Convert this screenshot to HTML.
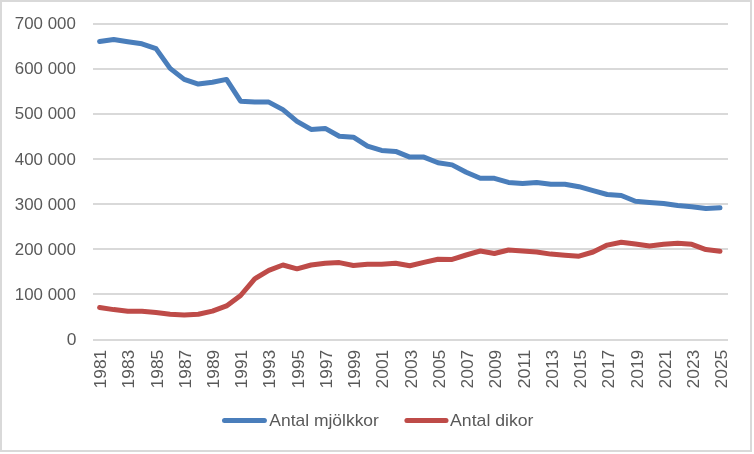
<!DOCTYPE html>
<html><head><meta charset="utf-8"><title>Antal mjölkkor och dikor</title>
<style>
html,body{margin:0;padding:0;background:#fff;}
body{width:754px;height:454px;overflow:hidden;}
svg{display:block;}
text{font-family:"Liberation Sans",sans-serif;fill:#595959;}
</style></head><body>
<svg width="754" height="454" viewBox="0 0 754 454">
<rect x="0" y="0" width="754" height="454" fill="#ffffff"/>
<rect x="1" y="1" width="750" height="450" fill="#ffffff" stroke="#d9d9d9" stroke-width="2"/>

<line x1="93" y1="24.0" x2="728" y2="24.0" stroke="#d9d9d9" stroke-width="2"/>
<line x1="93" y1="69.0" x2="728" y2="69.0" stroke="#d9d9d9" stroke-width="2"/>
<line x1="93" y1="114.0" x2="728" y2="114.0" stroke="#d9d9d9" stroke-width="2"/>
<line x1="93" y1="159.0" x2="728" y2="159.0" stroke="#d9d9d9" stroke-width="2"/>
<line x1="93" y1="204.0" x2="728" y2="204.0" stroke="#d9d9d9" stroke-width="2"/>
<line x1="93" y1="249.0" x2="728" y2="249.0" stroke="#d9d9d9" stroke-width="2"/>
<line x1="93" y1="294.0" x2="728" y2="294.0" stroke="#d9d9d9" stroke-width="2"/>
<line x1="93" y1="340.0" x2="728" y2="340.0" stroke="#d9d9d9" stroke-width="2"/>
<text x="75.8" y="29.0" font-size="16.4" text-anchor="end" textLength="61" lengthAdjust="spacingAndGlyphs">700 000</text>
<text x="75.8" y="74.2" font-size="16.4" text-anchor="end" textLength="61" lengthAdjust="spacingAndGlyphs">600 000</text>
<text x="75.8" y="119.3" font-size="16.4" text-anchor="end" textLength="61" lengthAdjust="spacingAndGlyphs">500 000</text>
<text x="75.8" y="164.5" font-size="16.4" text-anchor="end" textLength="61" lengthAdjust="spacingAndGlyphs">400 000</text>
<text x="75.8" y="209.7" font-size="16.4" text-anchor="end" textLength="61" lengthAdjust="spacingAndGlyphs">300 000</text>
<text x="75.8" y="254.9" font-size="16.4" text-anchor="end" textLength="61" lengthAdjust="spacingAndGlyphs">200 000</text>
<text x="75.8" y="300.0" font-size="16.4" text-anchor="end" textLength="61" lengthAdjust="spacingAndGlyphs">100 000</text>
<text x="76.5" y="345.2" font-size="16.4" text-anchor="end" textLength="9.7" lengthAdjust="spacingAndGlyphs">0</text>
<text transform="translate(106.0,388.5) rotate(-90)" font-size="16.4" textLength="38.8" lengthAdjust="spacingAndGlyphs">1981</text>
<text transform="translate(134.2,388.5) rotate(-90)" font-size="16.4" textLength="38.8" lengthAdjust="spacingAndGlyphs">1983</text>
<text transform="translate(162.5,388.5) rotate(-90)" font-size="16.4" textLength="38.8" lengthAdjust="spacingAndGlyphs">1985</text>
<text transform="translate(190.7,388.5) rotate(-90)" font-size="16.4" textLength="38.8" lengthAdjust="spacingAndGlyphs">1987</text>
<text transform="translate(219.0,388.5) rotate(-90)" font-size="16.4" textLength="38.8" lengthAdjust="spacingAndGlyphs">1989</text>
<text transform="translate(247.2,388.5) rotate(-90)" font-size="16.4" textLength="38.8" lengthAdjust="spacingAndGlyphs">1991</text>
<text transform="translate(275.4,388.5) rotate(-90)" font-size="16.4" textLength="38.8" lengthAdjust="spacingAndGlyphs">1993</text>
<text transform="translate(303.7,388.5) rotate(-90)" font-size="16.4" textLength="38.8" lengthAdjust="spacingAndGlyphs">1995</text>
<text transform="translate(331.9,388.5) rotate(-90)" font-size="16.4" textLength="38.8" lengthAdjust="spacingAndGlyphs">1997</text>
<text transform="translate(360.2,388.5) rotate(-90)" font-size="16.4" textLength="38.8" lengthAdjust="spacingAndGlyphs">1999</text>
<text transform="translate(388.4,388.5) rotate(-90)" font-size="16.4" textLength="38.8" lengthAdjust="spacingAndGlyphs">2001</text>
<text transform="translate(416.6,388.5) rotate(-90)" font-size="16.4" textLength="38.8" lengthAdjust="spacingAndGlyphs">2003</text>
<text transform="translate(444.9,388.5) rotate(-90)" font-size="16.4" textLength="38.8" lengthAdjust="spacingAndGlyphs">2005</text>
<text transform="translate(473.1,388.5) rotate(-90)" font-size="16.4" textLength="38.8" lengthAdjust="spacingAndGlyphs">2007</text>
<text transform="translate(501.4,388.5) rotate(-90)" font-size="16.4" textLength="38.8" lengthAdjust="spacingAndGlyphs">2009</text>
<text transform="translate(529.6,388.5) rotate(-90)" font-size="16.4" textLength="38.8" lengthAdjust="spacingAndGlyphs">2011</text>
<text transform="translate(557.8,388.5) rotate(-90)" font-size="16.4" textLength="38.8" lengthAdjust="spacingAndGlyphs">2013</text>
<text transform="translate(586.1,388.5) rotate(-90)" font-size="16.4" textLength="38.8" lengthAdjust="spacingAndGlyphs">2015</text>
<text transform="translate(614.3,388.5) rotate(-90)" font-size="16.4" textLength="38.8" lengthAdjust="spacingAndGlyphs">2017</text>
<text transform="translate(642.6,388.5) rotate(-90)" font-size="16.4" textLength="38.8" lengthAdjust="spacingAndGlyphs">2019</text>
<text transform="translate(670.8,388.5) rotate(-90)" font-size="16.4" textLength="38.8" lengthAdjust="spacingAndGlyphs">2021</text>
<text transform="translate(699.0,388.5) rotate(-90)" font-size="16.4" textLength="38.8" lengthAdjust="spacingAndGlyphs">2023</text>
<text transform="translate(727.3,388.5) rotate(-90)" font-size="16.4" textLength="38.8" lengthAdjust="spacingAndGlyphs">2025</text>
<polyline fill="none" stroke="#4a7ebb" stroke-width="5" stroke-linecap="round" stroke-linejoin="round" points="99.6,41.4 113.7,39.5 127.8,41.7 141.9,43.8 156.0,48.6 170.1,68.4 184.2,79.4 198.3,84.1 212.4,82.2 226.5,79.4 240.6,101.2 254.7,102.1 268.8,102.1 282.9,109.6 297.0,121.3 311.1,129.4 325.2,128.4 339.3,136.2 353.4,137.2 367.5,146.2 381.6,150.4 395.7,151.4 409.8,157.1 423.9,157.1 438.0,162.7 452.1,164.9 466.2,172.3 480.3,178.3 494.4,178.3 508.5,182.4 522.6,183.5 536.7,182.5 550.8,184.2 564.9,184.2 579.0,186.7 593.1,190.7 607.2,194.5 621.3,195.5 635.4,201.2 649.5,202.4 663.6,203.5 677.7,205.4 691.8,206.7 705.9,208.6 720.0,207.8"/>
<polyline fill="none" stroke="#be4b48" stroke-width="5" stroke-linecap="round" stroke-linejoin="round" points="99.6,307.5 113.7,309.6 127.8,311.3 141.9,311.3 156.0,312.6 170.1,314.3 184.2,315.1 198.3,314.3 212.4,311.1 226.5,305.9 240.6,295.5 254.7,278.8 268.8,270.3 282.9,265.0 297.0,268.8 311.1,265.0 325.2,263.3 339.3,262.6 353.4,265.5 367.5,264.3 381.6,264.3 395.7,263.3 409.8,265.8 423.9,262.4 438.0,259.2 452.1,259.4 466.2,255.0 480.3,251.0 494.4,253.5 508.5,250.0 522.6,250.9 536.7,252.0 550.8,254.1 564.9,255.2 579.0,256.2 593.1,252.0 607.2,245.1 621.3,242.2 635.4,244.1 649.5,246.0 663.6,244.3 677.7,243.2 691.8,244.3 705.9,249.6 720.0,251.3"/>
<line x1="224.5" y1="420.5" x2="264.4" y2="420.5" stroke="#4a7ebb" stroke-width="5" stroke-linecap="round"/>
<text x="269.3" y="426" font-size="16.4" textLength="109.6" lengthAdjust="spacingAndGlyphs">Antal mjölkkor</text>
<line x1="406.9" y1="420.5" x2="446" y2="420.5" stroke="#be4b48" stroke-width="5" stroke-linecap="round"/>
<text x="450.1" y="426" font-size="16.4" textLength="83.4" lengthAdjust="spacingAndGlyphs">Antal dikor</text>
</svg></body></html>
